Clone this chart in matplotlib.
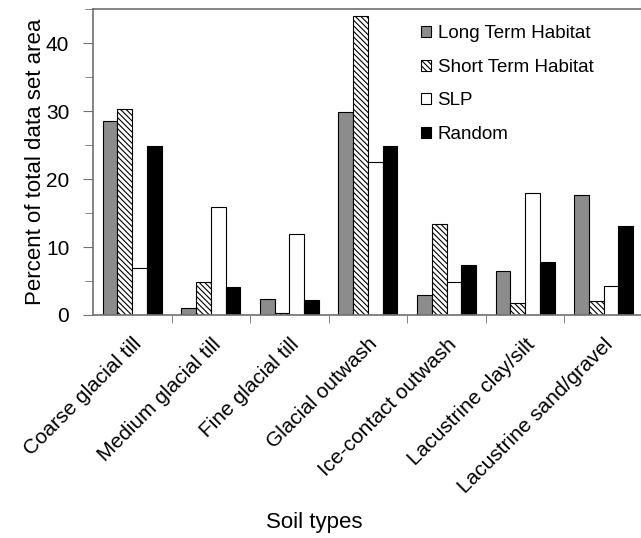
import matplotlib
matplotlib.use("Agg")
import matplotlib.pyplot as plt
import numpy as np
from matplotlib.ticker import MultipleLocator, FixedLocator

plt.rcParams['font.family'] = ['Liberation Sans', 'DejaVu Sans']
plt.rcParams['hatch.linewidth'] = 0.8

categories = ["Coarse glacial till", "Medium glacial till", "Fine glacial till",
              "Glacial outwash", "Ice-contact outwash", "Lacustrine clay/silt",
              "Lacustrine sand/gravel"]
series_names = ["Long Term Habitat", "Short Term Habitat", "SLP", "Random"]
long_term = [28.5, 1.0, 2.3, 29.8, 3.0, 6.5, 17.7]
short_term = [30.3, 4.9, 0.3, 44.0, 13.4, 1.7, 2.0]
slp = [6.9, 15.9, 11.9, 22.5, 4.8, 17.9, 4.2]
random_vals = [24.9, 4.1, 2.2, 24.8, 7.3, 7.8, 13.1]

fig = plt.figure(figsize=(6.41, 5.38), dpi=100)
ax = fig.add_axes([0.145, 0.4145, 0.858, 0.5685])

x = np.arange(len(categories))
w = 0.1875
styles = [
    dict(facecolor='#8c8c8c', edgecolor='black', hatch=None),
    dict(facecolor='white', edgecolor='black', hatch='\\\\\\\\\\\\'),
    dict(facecolor='white', edgecolor='black', hatch=None),
    dict(facecolor='black', edgecolor='black', hatch=None),
]
data = [long_term, short_term, slp, random_vals]
for i, (vals, st, name) in enumerate(zip(data, styles, series_names)):
    ax.bar(x + (i - 1.5) * w, vals, width=w, label=name, linewidth=0.8, **st)

ax.set_xlim(-0.5, len(categories) - 0.5)
ax.set_ylim(0, 45)
ax.yaxis.set_major_locator(MultipleLocator(10))
ax.yaxis.set_minor_locator(MultipleLocator(5))
ax.xaxis.set_major_locator(FixedLocator(x))
ax.xaxis.set_minor_locator(FixedLocator(np.arange(0.5, len(categories) - 1, 1)))
ax.set_xticklabels(categories, rotation=45, ha='right', va='top', rotation_mode='anchor', fontsize=15)
ax.tick_params(axis='x', which='major', length=0, pad=14)
ax.tick_params(axis='x', which='minor', length=6, direction='out', color='#707070')
ax.tick_params(axis='y', which='both', direction='out', color='#707070', labelsize=15)
ax.tick_params(axis='y', which='major', length=7, pad=10)
ax.tick_params(axis='y', which='minor', length=6)

for s in ax.spines.values():
    s.set_color('#707070')
    s.set_linewidth(1.2)

ax.set_ylabel("Percent of total data set area", fontsize=16)
ax.yaxis.set_label_coords(-0.085, 0.5)
fig.text(0.49, 0.028, "Soil types", fontsize=16, ha='center', va='center')

leg = ax.legend(loc='upper left', bbox_to_anchor=(0.572, 0.99), frameon=False,
                fontsize=13.5, handlelength=0.55, handleheight=0.55, handletextpad=0.35,
                labelspacing=0.88, borderaxespad=0.3)

fig.savefig("out.png", dpi=100)
